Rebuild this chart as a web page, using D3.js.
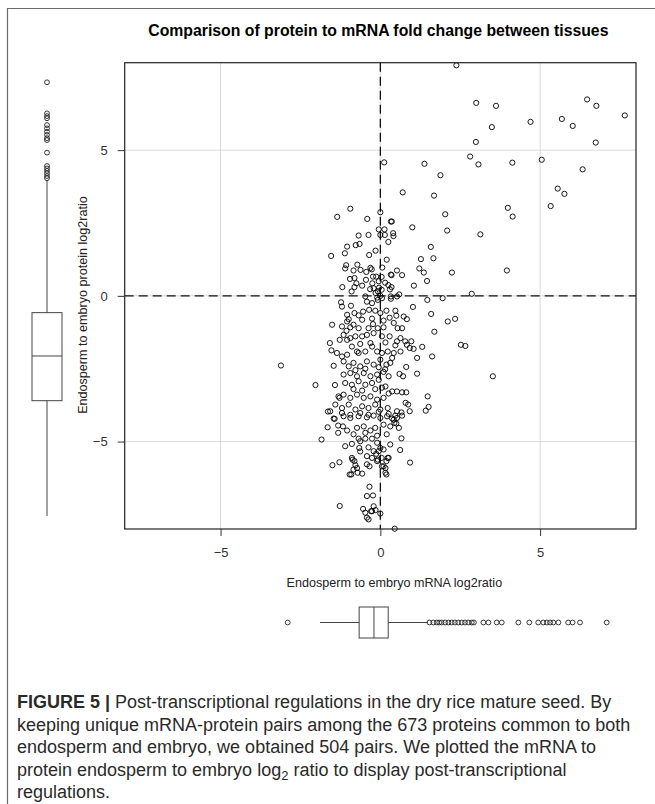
<!DOCTYPE html>
<html>
<head>
    <meta charset="utf-8">
    <title>Protein vs mRNA fold change</title>
    <script src="https://d3js.org/d3.v7.min.js"></script>
    <style>
        body { margin: 0; background: #fff; }
        svg { display: block; font-family: 'Liberation Sans', Arial, sans-serif; }
    </style>
</head>
<body>
    <div class="svg-container"></div>
    <script>
        // scatter: [mRNA log2ratio, protein log2ratio]
        const points = [
            [2.38,7.91],[3.0,6.62],[3.62,6.52],[3.49,5.79],[4.70,5.97],[2.99,5.28],[5.68,6.07],[6.02,5.83],[6.47,6.74],[6.76,6.52],
            [7.65,6.19],[6.74,5.26],[2.81,4.78],[3.07,4.51],[4.13,4.57],[5.05,4.67],[6.33,4.34],[0.12,4.58],[1.38,4.53],[1.88,4.14],
            [0.70,3.55],[1.68,3.44],[5.55,3.68],[5.76,3.50],[5.33,3.08],[3.99,3.02],[4.14,2.72],[2.03,2.80],[0.0,2.87],[0.33,2.55],
            [0.36,2.55],[1.0,2.35],[2.09,2.24],[3.13,2.11],[-0.05,2.28],[0.13,2.28],[0.0,2.09],[0.14,2.09],[0.40,2.15],[0.25,1.85],
            [1.58,1.68],[0.20,1.24],[1.27,1.26],[1.66,1.29],[1.22,0.94],[1.36,0.80],[2.24,0.80],[3.96,0.87],[1.46,0.51],[1.05,0.35],
            [0.52,0.87],[0.68,0.71],[0.35,0.71],[0.06,0.97],[2.86,0.07],[1.47,-0.14],[1.95,-0.08],[1.02,-0.38],[1.59,-0.62],[2.34,-0.79],
            [2.11,-0.88],[1.69,-1.23],[2.52,-1.68],[2.66,-1.72],[1.31,-1.75],[1.62,-2.08],[1.15,-2.13],[0.81,-2.44],[1.15,-2.67],[3.52,-2.76],
            [1.48,-3.45],[1.51,-3.81],[1.42,-3.94],[0.92,-3.96],[0.66,-4.89],[0.62,-5.29],[0.93,-5.72],[0.45,-7.99],[0.83,-0.80],[0.73,-0.71],
            [0.47,-0.51],[0.50,-0.68],[0.78,-1.56],[0.83,-1.68],[0.97,-1.56],[0.92,-1.79],[1.04,-1.82],[0.60,-2.68],[0.71,-2.76],[0.81,-3.31],
            [0.68,-3.31],[0.79,-3.67],[0.87,-3.73],[0.66,-4.0],[0.68,-4.11],[0.42,-4.25],[0.47,-4.11],[0.50,-4.38],[0.26,-5.56],[0.19,-5.67],
            [0.16,-6.07],[-0.23,-6.85],[-0.21,-7.22],[-0.26,-7.39],[0.0,-7.47],
            [-3.11,-2.39],[-2.03,-3.06],[-1.84,-4.93],[-1.64,-3.97],[-1.65,-4.51],[-1.51,-0.99],[-1.58,-1.62],[-1.53,-1.87],[-1.46,-2.40],[-1.42,-3.06],
            [-1.28,-3.50],[-1.43,-4.22],[-1.32,-4.45],[-1.32,-4.70],[-1.50,-5.81],[-1.28,-5.71],[-1.27,-7.21],[-0.96,-6.13],[-0.91,-6.13],[-0.84,-5.96],
            [-0.71,-6.07],[-0.57,-6.10],[-0.87,-5.62],[-0.78,-5.81],[-0.42,-5.78],[-0.34,-5.85],[-0.63,-5.34],[-0.34,-6.55],[-0.42,-6.87],[-0.54,-7.31],
            [-0.47,-7.44],[-0.42,-7.61],[-0.37,-7.67],[-0.29,-7.39],[-0.15,-7.35],[0.10,-5.85],
            [-0.94,2.99],[-1.35,2.71],[-0.41,2.64],[-0.68,2.07],[-0.37,2.09],[0.41,2.05],[-0.77,1.74],[-0.65,1.78],[-1.04,1.69],[-0.15,1.55],
            [-1.54,1.37],[-1.11,1.46],[-0.35,1.40],[-1.07,1.05],[-1.10,0.94],[-0.72,1.07],[-0.31,0.96],[-0.27,0.91],[0.33,0.73],[-0.84,0.87],
            [-0.62,0.89],[-0.44,0.82],[-0.95,0.58],[-0.81,0.61],[-0.75,0.43],[-0.45,0.55],[-0.23,0.66],[-0.13,0.66],[0.04,0.65],[-0.25,0.43],
            [-0.05,0.50],[-1.19,0.30],[-0.81,0.30],[-0.32,0.23],[-0.21,0.26],[-0.04,0.28],[-0.08,0.16],[0.04,0.21],[0.25,0.37],[0.35,0.30],
            [0.30,0.22],[0.59,0.05],[-0.47,-0.02],[-0.10,-0.06],[0.0,0.0],[0.33,-0.02],
            [-1.23,-0.22],[-1.20,-0.37],[-0.92,-0.34],[-0.42,-0.20],[-0.26,-0.25],[-0.08,-0.14],[0.05,-0.08],[0.33,-0.10],[0.52,-0.02],
            [-1.04,-0.65],[-0.81,-0.59],[-0.68,-0.67],[-0.54,-0.54],[-0.35,-0.48],[-0.16,-0.51],[0.0,-0.59],[0.19,-0.51],
            [-1.20,-1.05],[-1.04,-0.88],[-0.94,-1.08],[-1.06,-1.20],[-0.84,-0.99],[-0.68,-1.11],[-0.37,-1.11],[-0.23,-0.97],[-0.08,-1.11],[0.10,-1.08],
            [0.42,-0.93],[0.54,-1.11],[0.68,-1.11],
            [-1.27,-1.51],[-1.15,-1.34],[-1.04,-1.51],[-0.94,-1.45],[-0.78,-1.39],[-0.57,-1.39],[-0.42,-1.34],[-0.21,-1.28],[0.05,-1.39],[0.29,-1.39],
            [0.52,-1.56],[0.63,-1.45],
            [-1.36,-1.96],[-1.20,-2.08],[-1.04,-2.02],[-0.89,-1.74],[-0.73,-1.91],[-0.68,-1.96],[-0.47,-1.91],[-0.26,-1.74],[-0.10,-1.91],[0.05,-1.96],
            [0.23,-1.91],[0.42,-1.96],[0.63,-1.91],[0.37,-2.13],
            [-1.15,-2.25],[-0.99,-2.42],[-0.84,-2.30],[-0.63,-2.42],[-0.42,-2.25],[-0.21,-2.36],[0.0,-2.19],[0.19,-2.36],[0.31,-2.30],
            [-1.15,-2.70],[-0.94,-2.65],[-0.73,-2.76],[-0.52,-2.65],[-0.31,-2.76],[-0.10,-2.70],[0.10,-2.61],[0.26,-2.76],
            [-1.10,-2.99],[-0.89,-3.05],[-0.68,-2.93],[-0.47,-3.05],[-0.26,-2.99],[-0.05,-2.88],[0.16,-3.11],[0.37,-3.28],[0.52,-3.28],
            [-1.31,-3.45],[-1.15,-3.39],[-0.94,-3.50],[-0.73,-3.39],[-0.52,-3.50],[-0.31,-3.45],[-0.10,-3.56],[0.10,-3.50],
            [-1.41,-3.73],[-1.20,-3.85],[-0.99,-3.73],[-0.78,-3.90],[-0.57,-3.79],[-0.37,-3.85],[-0.16,-3.73],[0.0,-3.90],[0.23,-3.85],[0.52,-3.96],
            [-1.57,-3.96],[-1.20,-4.02],[-0.94,-4.08],[-0.63,-4.02],[-0.37,-4.08],[-0.05,-3.98],[0.26,-4.05],
            [-1.46,-4.21],[-1.15,-4.13],[-0.94,-4.19],[-0.68,-4.13],[-0.42,-4.17],[-0.21,-4.11],[0.0,-4.19],[0.21,-4.13],[0.37,-4.21],[0.52,-4.19],
            [-1.17,-4.48],[-1.04,-4.62],[-0.73,-4.53],[-0.52,-4.48],[-0.31,-4.62],[-0.16,-4.53],[0.10,-4.42],[0.31,-4.48],[0.44,-4.36],[0.58,-4.53],
            [-1.10,-5.16],[-0.89,-5.08],[-0.68,-4.90],[-0.63,-4.99],[-0.47,-4.90],[-0.26,-4.90],[-0.10,-5.04],[0.0,-5.22],[-0.05,-5.33],[0.10,-5.27],
            [0.31,-5.10],[-0.66,-5.22],[-0.37,-5.20],[-0.21,-5.33],[-0.13,-5.42],[-0.08,-5.62],[0.04,-5.56],[0.23,-5.56],
            [-0.89,-5.56],[-0.81,-5.67],[-0.42,-5.50],[-0.26,-5.56],[-0.10,-5.67],[0.05,-5.85],[0.16,-5.91],[0.19,-6.13],[-0.73,-5.91],
            [-0.99,-0.80],[-0.57,-0.82],[-0.26,-0.78],[0.10,-0.85],[0.29,-0.75],[-0.63,-1.65],[-0.31,-1.62],[0.16,-1.60],[0.47,-1.70],[-0.78,-2.55],
            [-0.47,-2.50],[-0.05,-2.45],[0.15,-2.52],[-0.84,-3.20],[-0.57,-3.25],[-0.16,-3.20],[0.05,-3.15],[0.26,-3.35],[-0.84,-4.75],[-0.47,-4.70],
            [-0.10,-4.80],[0.20,-4.75],[-0.57,0.35],[-0.15,0.10],[0.15,0.45],[-0.90,0.15]
        ]

        const axisTicks = [-5, 0, 5]
        const axisDomain = [-8, 8]

        // marginal boxplots: [lower whisker, q1, median, q3, upper whisker]
        const yBoxStats = [-8.0, -3.77, -2.13, -0.54, 4.33]
        const yBoxOutliers = [7.91, 6.77, 6.67, 6.59, 6.34, 6.22, 6.10, 5.98, 5.86, 5.79, 5.33, 4.84, 4.75, 4.66, 4.57, 4.47, 4.39]
        const xBoxStats = [-2.02, -0.70, -0.20, 0.28, 1.62]
        const xBoxOutliers = [-3.11, 1.67, 1.80, 1.92, 2.00, 2.08, 2.20, 2.31, 2.42, 2.53, 2.64, 2.76, 2.87, 2.98, 3.10, 3.17,
            3.49, 3.66, 3.94, 4.11, 4.67, 5.04, 5.34, 5.51, 5.63, 5.74, 5.85, 6.02, 6.35, 6.50, 6.75, 7.65]

        const title = 'Comparison of protein to mRNA fold change between tissues'
        const xLabel = 'Endosperm to embryo mRNA log2ratio'
        const yLabel = 'Endosperm to embryo protein log2ratio'

        const w = 655
        const h = 804
        const plot = { left: 124.7, right: 636, top: 62.7, bottom: 529 }

        const svg = d3.select('.svg-container')
            .append('svg')
            .attr('width', w)
            .attr('height', h)

        // figure frame (left + top rule)
        svg.append('path')
            .attr('d', `M7.5,${h} V8.5 H${w}`)
            .attr('fill', 'none')
            .attr('stroke', '#6b6b6b')
            .attr('stroke-width', 1.2)

        const x = d3.scaleLinear().domain(axisDomain).range([plot.left, plot.right])
        const y = d3.scaleLinear().domain(axisDomain).range([plot.bottom, plot.top])

        svg.append('text')
            .attr('x', (plot.left + plot.right) / 2 - 2)
            .attr('y', 36)
            .attr('text-anchor', 'middle')
            .style('font-weight', 'bold')
            .style('font-size', '15.8px')
            .text(title)

        // grid
        const grid = svg.append('g').attr('stroke', '#d9d9d9').attr('stroke-width', 1)
        grid.selectAll('.gx')
            .data(axisTicks)
            .enter()
            .append('line')
            .attr('x1', d => x(d)).attr('x2', d => x(d))
            .attr('y1', plot.top).attr('y2', plot.bottom)
        grid.selectAll('.gy')
            .data(axisTicks)
            .enter()
            .append('line')
            .attr('y1', d => y(d)).attr('y2', d => y(d))
            .attr('x1', plot.left).attr('x2', plot.right)

        // dashed zero lines
        svg.append('line')
            .attr('x1', x(0)).attr('x2', x(0))
            .attr('y1', plot.top).attr('y2', plot.bottom)
            .attr('stroke', '#111').attr('stroke-width', 1.3)
            .attr('stroke-dasharray', '9,5')
        svg.append('line')
            .attr('y1', y(0)).attr('y2', y(0))
            .attr('x1', plot.left).attr('x2', plot.right)
            .attr('stroke', '#111').attr('stroke-width', 1.3)
            .attr('stroke-dasharray', '9,5')

        svg.append('g')
            .selectAll('circle')
            .data(points)
            .enter()
            .append('circle')
            .attr('cx', d => x(d[0]))
            .attr('cy', d => y(d[1]))
            .attr('r', 2.6)
            .attr('fill', 'none')
            .attr('stroke', '#000')
            .attr('stroke-width', 0.9)

        svg.append('rect')
            .attr('x', plot.left).attr('y', plot.top)
            .attr('width', plot.right - plot.left)
            .attr('height', plot.bottom - plot.top)
            .attr('fill', 'none')
            .attr('stroke', '#222')
            .attr('stroke-width', 1.2)

        const xAxis = svg.append('g')
            .attr('transform', `translate(0,${plot.bottom})`)
            .call(d3.axisBottom(x).tickValues(axisTicks).tickSize(7).tickPadding(12).tickFormat(d3.format('d')))
        const yAxis = svg.append('g')
            .attr('transform', `translate(${plot.left},0)`)
            .call(d3.axisLeft(y).tickValues(axisTicks).tickSize(7).tickPadding(10).tickFormat(d3.format('d')))
        ;[xAxis, yAxis].forEach(a => {
            a.select('.domain').remove()
            a.selectAll('line').attr('stroke', '#333')
            a.selectAll('text')
                .attr('fill', '#333')
                .style('font-size', '13px')
                .style('font-family', "'Liberation Sans', Arial, sans-serif")
        })

        svg.append('text')
            .attr('x', x(0) + 14)
            .attr('y', 587)
            .attr('text-anchor', 'middle')
            .attr('fill', '#222')
            .style('font-size', '12.6px')
            .text(xLabel)

        svg.append('text')
            .attr('transform', `translate(87,305) rotate(-90)`)
            .attr('text-anchor', 'middle')
            .attr('fill', '#222')
            .style('font-size', '12.6px')
            .text(yLabel)

        // left boxplot (protein)
        const by = d3.scaleLinear().domain([yBoxStats[0], d3.max(yBoxOutliers)]).range([516, 82.3])
        const lbx = 47
        const leftBox = svg.append('g').attr('stroke', '#444').attr('fill', 'none')
        leftBox.append('line')
            .attr('x1', lbx).attr('x2', lbx)
            .attr('y1', by(yBoxStats[0])).attr('y2', by(yBoxStats[1]))
        leftBox.append('line')
            .attr('x1', lbx).attr('x2', lbx)
            .attr('y1', by(yBoxStats[3])).attr('y2', by(yBoxStats[4]))
        leftBox.append('rect')
            .attr('x', lbx - 15).attr('width', 30)
            .attr('y', by(yBoxStats[3]))
            .attr('height', by(yBoxStats[1]) - by(yBoxStats[3]))
        leftBox.append('line')
            .attr('x1', lbx - 15).attr('x2', lbx + 15)
            .attr('y1', by(yBoxStats[2])).attr('y2', by(yBoxStats[2]))
        leftBox.selectAll('circle')
            .data(yBoxOutliers)
            .enter()
            .append('circle')
            .attr('cx', lbx)
            .attr('cy', d => by(d))
            .attr('r', 2.4)
            .attr('stroke', '#222')
            .attr('stroke-width', 0.9)

        // bottom boxplot (mRNA)
        const bx = d3.scaleLinear().domain(d3.extent(xBoxOutliers)).range([287.7, 606.7])
        const bby = 622.5
        const bottomBox = svg.append('g').attr('stroke', '#444').attr('fill', 'none')
        bottomBox.append('line')
            .attr('y1', bby).attr('y2', bby)
            .attr('x1', bx(xBoxStats[0])).attr('x2', bx(xBoxStats[1]))
        bottomBox.append('line')
            .attr('y1', bby).attr('y2', bby)
            .attr('x1', bx(xBoxStats[3])).attr('x2', bx(xBoxStats[4]))
        bottomBox.append('rect')
            .attr('y', bby - 15.5).attr('height', 31)
            .attr('x', bx(xBoxStats[1]))
            .attr('width', bx(xBoxStats[3]) - bx(xBoxStats[1]))
        bottomBox.append('line')
            .attr('y1', bby - 15.5).attr('y2', bby + 15.5)
            .attr('x1', bx(xBoxStats[2])).attr('x2', bx(xBoxStats[2]))
        bottomBox.selectAll('circle')
            .data(xBoxOutliers)
            .enter()
            .append('circle')
            .attr('cy', bby)
            .attr('cx', d => bx(d))
            .attr('r', 2.4)
            .attr('stroke', '#222')
            .attr('stroke-width', 0.9)

        // caption
        const caption = svg.append('text')
            .attr('fill', '#2a2a2a')
            .style('font-size', '18px')
        const capX = 17
        const capY0 = 708
        const capStep = 22.5
        const line1 = caption.append('tspan').attr('x', capX).attr('y', capY0)
        line1.append('tspan').style('font-weight', 'bold').text('FIGURE 5 |')
        line1.append('tspan').text(' Post-transcriptional regulations in the dry rice mature seed. By')
        caption.append('tspan').attr('x', capX).attr('y', capY0 + capStep)
            .text('keeping unique mRNA-protein pairs among the 673 proteins common to both')
        caption.append('tspan').attr('x', capX).attr('y', capY0 + 2 * capStep)
            .text('endosperm and embryo, we obtained 504 pairs. We plotted the mRNA to')
        const line4 = caption.append('tspan').attr('x', capX).attr('y', capY0 + 3 * capStep)
        line4.append('tspan').text('protein endosperm to embryo log')
        line4.append('tspan').attr('dy', 4).style('font-size', '13px').text('2')
        line4.append('tspan').attr('dy', -4).text(' ratio to display post-transcriptional')
        caption.append('tspan').attr('x', capX).attr('y', capY0 + 4 * capStep)
            .text('regulations.')
    </script>
</body>
</html>
